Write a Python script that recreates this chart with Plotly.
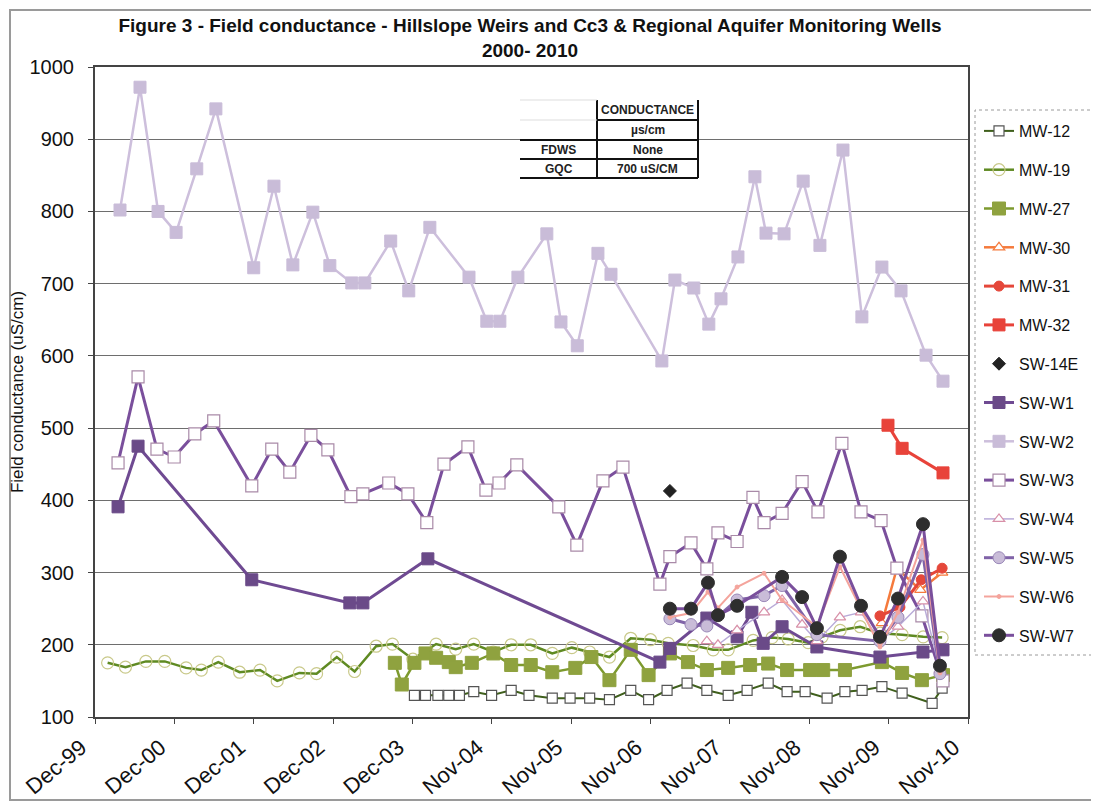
import pandas as pd
import plotly.graph_objects as go

# ---------------- data ----------------
tick_labels = ["Dec-99", "Dec-00", "Dec-01", "Dec-02", "Dec-03", "Nov-04",
               "Nov-05", "Nov-06", "Nov-07", "Nov-08", "Nov-09", "Nov-10"]

mw12_dates = ["2003-12-10", "2004-01-30", "2004-03-27", "2004-05-16", "2004-07-04", "2004-09-08",
              "2004-11-29", "2005-02-27", "2005-05-20", "2005-09-04", "2005-11-25", "2006-02-23",
              "2006-05-25", "2006-08-31", "2006-11-21", "2007-02-14", "2007-05-17", "2007-08-16",
              "2007-11-22", "2008-02-17", "2008-05-24", "2008-08-19", "2008-11-10", "2009-02-19",
              "2009-05-12", "2009-07-30", "2009-10-29", "2010-01-30", "2010-06-17", "2010-08-02"]
mw12_vals = [130, 130, 130, 130, 130, 135, 130, 137, 130, 126, 126, 126, 124, 137, 124,
             137, 147, 137, 130, 137, 147, 135, 135, 126, 135, 137, 142, 133, 119, 140]

mw19_dates = ["2000-01-29", "2000-04-20", "2000-07-23", "2000-10-18", "2001-01-24", "2001-04-04",
              "2001-06-21", "2001-09-27", "2001-12-30", "2002-03-19", "2002-06-29", "2002-09-16",
              "2002-12-18", "2003-03-10", "2003-06-17", "2003-08-31", "2003-12-03", "2004-03-19",
              "2004-06-17", "2004-09-08", "2004-12-07", "2005-02-27", "2005-05-28", "2005-09-04",
              "2005-12-03", "2006-02-23", "2006-05-25", "2006-08-31", "2006-11-30", "2007-02-19",
              "2007-06-14", "2007-09-14", "2007-11-22", "2008-03-16", "2008-06-11", "2008-08-24",
              "2008-11-24", "2009-01-27", "2009-04-20", "2009-07-21", "2009-10-21", "2010-01-30",
              "2010-05-07", "2010-08-02"]
mw19_vals = [175, 169, 177, 177, 168, 165, 176, 162, 165, 150, 161, 160, 183, 163, 198, 201,
             180, 201, 194, 201, 190, 200, 200, 188, 196, 190, 183, 209, 207, 202, 199, 193,
             193, 206, 210, 208, 203, 211, 220, 225, 216, 214, 211, 210]

mw27_dates = ["2003-09-11", "2003-10-13", "2003-12-10", "2004-01-30", "2004-03-19", "2004-05-16",
              "2004-06-17", "2004-08-30", "2004-12-07", "2005-02-27", "2005-05-28", "2005-09-04",
              "2005-12-19", "2006-03-03", "2006-05-25", "2006-08-31", "2006-11-21", "2007-02-27",
              "2007-05-21", "2007-08-16", "2007-11-22", "2008-03-02", "2008-05-24", "2008-08-19",
              "2008-12-03", "2009-02-01", "2009-05-12", "2009-10-29", "2010-01-30", "2010-05-01",
              "2010-08-06"]
mw27_vals = [175, 145, 175, 188, 182, 176, 169, 175, 188, 172, 172, 162, 168, 183, 151, 193,
             158, 188, 176, 165, 168, 172, 174, 165, 165, 165, 165, 176, 161, 151, 158]

mw30_dates = ["2009-10-29", "2010-01-06", "2010-04-24", "2010-08-02"]
mw30_vals = [230, 306, 276, 300]

mw31_dates = ["2009-10-20", "2010-01-20", "2010-04-28", "2010-08-02"]
mw31_vals = [240, 252, 290, 306]

mw32_dates = ["2009-11-26", "2010-01-30", "2010-08-06"]
mw32_vals = [504, 472, 438]

sw14e_dates = ["2007-02-27"]
sw14e_vals = [413]

w1_dates = ["2000-03-17", "2000-06-17", "2001-11-22", "2003-02-16", "2003-04-17", "2004-02-10",
            "2007-01-12", "2007-02-27", "2007-08-16", "2008-01-02", "2008-03-10", "2008-05-01",
            "2008-07-27", "2009-01-03", "2009-10-20", "2010-05-06", "2010-08-06"]
w1_vals = [391, 475, 290, 258, 258, 319, 176, 195, 237, 211, 245, 202, 225, 197, 183, 190, 193]

w2_dates = ["2000-03-26", "2000-06-26", "2000-09-17", "2000-12-09", "2001-03-14", "2001-06-10",
            "2001-12-01", "2002-03-04", "2002-05-30", "2002-08-30", "2002-11-16", "2003-02-25",
            "2003-04-26", "2003-08-23", "2003-11-14", "2004-02-19", "2004-08-17", "2004-11-07",
            "2005-01-06", "2005-03-30", "2005-08-10", "2005-10-14", "2005-12-28", "2006-04-02",
            "2006-06-01", "2007-01-21", "2007-03-22", "2007-06-17", "2007-08-25", "2007-10-20",
            "2008-01-06", "2008-03-24", "2008-05-14", "2008-08-05", "2008-11-01", "2009-01-17",
            "2009-05-03", "2009-07-29", "2009-10-29", "2010-01-25", "2010-05-20", "2010-08-06"]
w2_vals = [802, 972, 800, 771, 859, 942, 722, 835, 726, 799, 725, 701, 701, 759, 690, 778,
           709, 648, 648, 709, 769, 647, 614, 742, 713, 593, 705, 694, 644, 679, 737, 848,
           770, 769, 842, 753, 885, 654, 723, 690, 601, 565]

w3_dates = ["2000-03-17", "2000-06-17", "2000-09-12", "2000-11-30", "2001-03-05", "2001-05-31",
            "2001-11-22", "2002-02-22", "2002-05-16", "2002-08-21", "2002-11-07", "2003-02-21",
            "2003-04-17", "2003-08-14", "2003-11-10", "2004-02-05", "2004-04-24", "2004-08-12",
            "2004-11-03", "2005-01-02", "2005-03-25", "2005-10-04", "2005-12-26", "2006-04-25",
            "2006-07-26", "2007-01-12", "2007-02-27", "2007-06-04", "2007-08-16", "2007-10-06",
            "2008-01-02", "2008-03-15", "2008-05-05", "2008-07-27", "2008-10-27", "2009-01-08",
            "2009-04-28", "2009-07-25", "2009-10-25", "2010-01-06", "2010-05-01", "2010-08-06"]
w3_vals = [452, 571, 471, 460, 492, 510, 420, 471, 439, 490, 470, 405, 409, 424, 409, 369,
           450, 474, 414, 424, 449, 391, 338, 427, 446, 284, 322, 341, 305, 355, 343, 404,
           369, 382, 426, 384, 479, 384, 372, 306, 240, 150]

w4_dates = ["2007-08-16", "2007-10-06", "2008-01-02", "2008-05-05", "2008-07-27", "2008-10-27",
            "2009-01-03", "2009-04-19", "2009-07-25", "2009-10-20", "2010-01-11", "2010-05-06",
            "2010-07-23"]
w4_vals = [205, 200, 220, 245, 262, 228, 205, 238, 245, 205, 225, 260, 165]

w5_dates = ["2007-02-27", "2007-06-04", "2007-08-16", "2008-01-02", "2008-05-05", "2008-07-27",
            "2009-01-03", "2009-10-20", "2010-01-11", "2010-05-06", "2010-07-23"]
w5_vals = [236, 228, 226, 262, 268, 282, 214, 205, 238, 325, 160]

w6_dates = ["2007-02-27", "2007-06-04", "2007-08-21", "2007-10-06", "2008-01-02", "2008-05-05",
            "2008-07-27", "2009-01-03", "2009-04-19", "2009-10-20", "2010-01-11", "2010-05-06",
            "2010-07-23"]
w6_vals = [238, 244, 273, 251, 280, 299, 262, 225, 308, 197, 245, 345, 161]

w7_dates = ["2007-02-27", "2007-06-04", "2007-08-21", "2007-10-06", "2008-01-02", "2008-07-27",
            "2008-10-27", "2009-01-03", "2009-04-19", "2009-07-25", "2009-10-20", "2010-01-11",
            "2010-05-06", "2010-07-23"]
w7_vals = [250, 250, 286, 241, 254, 294, 266, 223, 322, 254, 211, 264, 367, 171]

# ---------------- figure ----------------
FONT = "Liberation Sans, Arial, sans-serif"
fig = go.Figure()


def add(name, dates, vals, lc, lw, sym, ms, mfill, mline, mlw=1, mode="lines+markers"):
    fig.add_trace(go.Scatter(
        x=dates, y=vals, name=name, mode=mode, legendgroup=name,
        line=dict(color=lc, width=lw),
        marker=dict(symbol=sym, size=ms, color=mfill, line=dict(color=mline, width=mlw)),
    ))


add("MW-12", mw12_dates, mw12_vals, "#3f5f1c", 2, "square", 10, "white", "#555555", 1.2)
add("MW-19", mw19_dates, mw19_vals, "#5f8a22", 2.5, "circle", 12, "rgba(255,255,255,0)", "#c9c98a", 1.2)
add("MW-27", mw27_dates, mw27_vals, "#7d9a2e", 2.5, "square", 13, "#8fa23f", "#8fa23f", 1)
add("MW-30", mw30_dates, mw30_vals, "#f57a3c", 2.5, "triangle-up", 10, "white", "#f57a3c", 1.2)
add("MW-31", mw31_dates, mw31_vals, "#e5473a", 3, "circle", 10, "#e5473a", "#e5473a", 1)
add("MW-32", mw32_dates, mw32_vals, "#e8433a", 3, "square", 12, "#e8433a", "#e8433a", 1)
add("SW-14E", sw14e_dates, sw14e_vals, "#222222", 1, "diamond", 10, "#222222", "#222222", 1, mode="markers")
add("SW-W1", w1_dates, w1_vals, "#6f4a92", 3, "square", 12, "#6a4a88", "#6a4a88", 1)
add("SW-W2", w2_dates, w2_vals, "#cdbfdc", 2.5, "square", 12, "#c9bcd8", "#c9bcd8", 1)
add("SW-W3", w3_dates, w3_vals, "#7a4f9c", 3, "square", 12, "white", "#a98aa8", 1.2)
add("SW-W4", w4_dates, w4_vals, "#b9abd8", 1.5, "triangle-up", 10, "white", "#d890a8", 1.2)
add("SW-W5", w5_dates, w5_vals, "#8063a8", 3, "circle", 12, "#c9bcd8", "#9a88b8", 1)
add("SW-W6", w6_dates, w6_vals, "#f4a49c", 2, "circle", 4, "#f4a49c", "#f4a49c", 1)
add("SW-W7", w7_dates, w7_vals, "#7a4f9c", 3, "circle", 13, "#2e2e2e", "#2e2e2e", 1)

start = pd.Timestamp("1999-12-02")
tick_vals = [start + pd.Timedelta(days=365 * i) for i in range(len(tick_labels))]

fig.update_xaxes(
    type="date", range=[tick_vals[0], tick_vals[-1]],
    tickvals=tick_vals, ticktext=tick_labels, tickangle=-40,
    tickfont=dict(family=FONT, size=22, color="#111"),
    showgrid=False, showline=True, linecolor="#444", linewidth=2, mirror=True,
    ticks="outside", ticklen=5, tickcolor="#444", zeroline=False,
    ticklabelshift=-14, ticklabelstandoff=2,
)
fig.update_yaxes(
    range=[100, 1000], dtick=100, tickfont=dict(family=FONT, size=20, color="#111"),
    showgrid=True, gridcolor="#6e6e6e", gridwidth=1,
    showline=True, linecolor="#444", linewidth=2, mirror=True,
    ticks="outside", ticklen=5, tickcolor="#444", zeroline=False, ticklabelstandoff=10,
    title=dict(text="Field conductance (uS/cm)", font=dict(family=FONT, size=17, color="#111"), standoff=10),
)


# positions below are page pixels of the reference, turned into plot-area fractions
def px_x(p):
    return (p - 95) / 873.0


def px_y(p):
    return (717 - p) / 650.0


shapes = []
tx0, tx1, tx2 = 520, 597, 698
rows = [100, 120, 140, 159, 178]
shapes.append(dict(type="rect", xref="paper", yref="paper", x0=px_x(tx0), x1=px_x(tx2),
                   y0=px_y(rows[-1]), y1=px_y(rows[0]), fillcolor="white", line=dict(width=0)))
for xv in (tx1, tx2):
    shapes.append(dict(type="line", xref="paper", yref="paper", x0=px_x(xv), x1=px_x(xv),
                       y0=px_y(rows[0]), y1=px_y(rows[-1]), line=dict(color="#111", width=2)))
shapes.append(dict(type="line", xref="paper", yref="paper", x0=px_x(tx1), x1=px_x(tx2),
                   y0=px_y(rows[1]), y1=px_y(rows[1]), line=dict(color="#111", width=2)))
for rv in rows[2:]:
    shapes.append(dict(type="line", xref="paper", yref="paper", x0=px_x(tx0), x1=px_x(tx2),
                       y0=px_y(rv), y1=px_y(rv), line=dict(color="#111", width=2)))
for rv in rows[:2]:
    shapes.append(dict(type="line", xref="paper", yref="paper", x0=px_x(tx0), x1=px_x(tx1),
                       y0=px_y(rv), y1=px_y(rv), line=dict(color="#dddddd", width=1)))
# legend box (dotted)
shapes.append(dict(type="rect", xref="paper", yref="paper", x0=px_x(975), x1=px_x(1093),
                   y0=px_y(655), y1=px_y(110), line=dict(color="#9a9a9a", width=1, dash="dot")))
# outer frame of the scanned figure
shapes.append(dict(type="rect", xref="paper", yref="paper", x0=px_x(10), x1=px_x(1096),
                   y0=px_y(800), y1=px_y(10), line=dict(color="#9a9a9a", width=2)))

table_text = [
    ("CONDUCTANCE", (tx1 + tx2) / 2, (rows[0] + rows[1]) / 2),
    ("µs/cm", (tx1 + tx2) / 2, (rows[1] + rows[2]) / 2),
    ("FDWS", (tx0 + tx1) / 2, (rows[2] + rows[3]) / 2),
    ("None", (tx1 + tx2) / 2, (rows[2] + rows[3]) / 2),
    ("GQC", (tx0 + tx1) / 2, (rows[3] + rows[4]) / 2),
    ("700 uS/CM", (tx1 + tx2) / 2, (rows[3] + rows[4]) / 2),
]
annotations = []
for t, xx, yy in table_text:
    annotations.append(dict(text=f"<b>{t}</b>", xref="paper", yref="paper", x=px_x(xx), y=px_y(yy),
                            showarrow=False, font=dict(family=FONT, size=12, color="#222"),
                            xanchor="center", yanchor="middle"))

# the page adds an 8px body margin, so the figure is 8px smaller on each side
W, H = 1091, 799
fig.update_layout(
    width=W, height=H,
    margin=dict(l=87, r=131, t=59, b=90, autoexpand=False),
    paper_bgcolor="white", plot_bgcolor="white",
    title=dict(
        text="<b>Figure 3 - Field conductance - Hillslope Weirs and Cc3 & Regional Aquifer Monitoring Wells<br>2000- 2010</b>",
        x=522 / W, xref="container", xanchor="center", y=1 - 24 / H, yref="container", yanchor="top",
        font=dict(family=FONT, size=19, color="#111"),
    ),
    legend=dict(
        x=px_x(979), y=px_y(114), xanchor="left", yanchor="top",
        font=dict(family=FONT, size=16, color="#111"),
        bgcolor="rgba(255,255,255,0)", borderwidth=0,
        tracegroupgap=15, itemwidth=30,
    ),
    shapes=shapes, annotations=annotations,
)

fig.write_html("out.html")
